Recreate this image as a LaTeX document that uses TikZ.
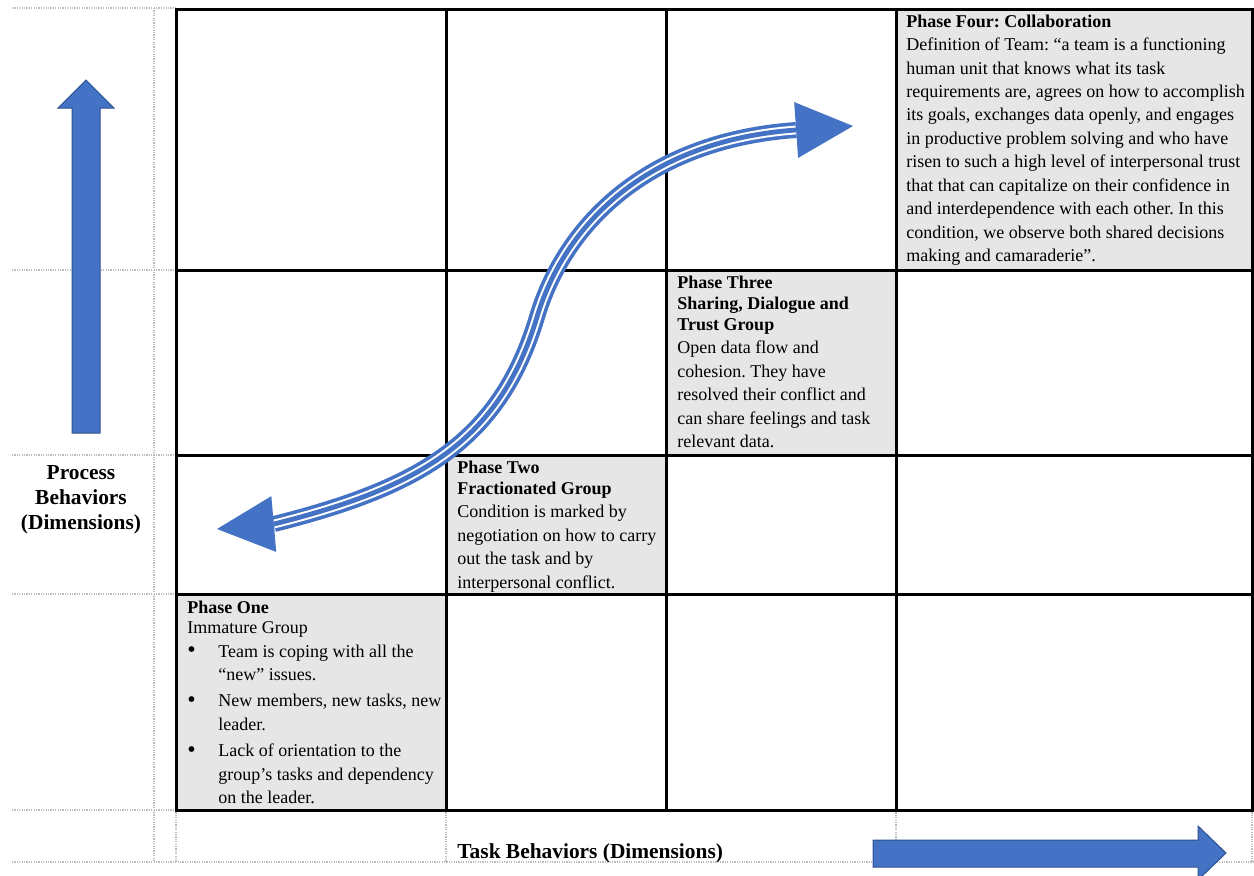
\documentclass[tikz,border=0pt]{standalone}
\usepackage{fontspec}
\setmainfont{Liberation Serif}
\usetikzlibrary{arrows.meta}
\definecolor{ArrowBlue}{HTML}{4472C4}
\definecolor{ArrowEdge}{HTML}{2F528F}
\definecolor{CellGray}{HTML}{E7E6E6}
\definecolor{GuideGray}{HTML}{BDBDBD}
\newcommand{\bul}{\makebox[15.5pt][l]{\raisebox{-0.3pt}{\fontsize{12}{0}\selectfont\textbullet}}}
\newcommand{\ind}{\hspace*{15.5pt}}
\frenchspacing

\begin{document}
\begin{tikzpicture}[x=0.5pt, y=-0.5pt]
	\tikzstyle{grid} = [line width=1.5pt]
	\tikzstyle{guide} = [GuideGray, line width=0.6pt, dash pattern=on 0.6pt off 0.6pt]
	\tikzstyle{phase} = [anchor=north west, align=left, inner sep=0pt, font=\fontsize{9}{11.7}\selectfont]
	\tikzstyle{axis} = [inner sep=0pt, align=center, font=\fontsize{10.7}{12.4}\selectfont\bfseries]
	\tikzstyle{fatarrow} = [fill=ArrowBlue, draw=ArrowEdge, line width=0.5pt]
	\tikzset{bigtip/.tip={Triangle[width=28pt, length=28.5pt, line width=0pt]}}
	
	\clip (0,0) rectangle (1254,875);
	
	% dotted guides of the page table
	\foreach \y in {8,270,455,594,810} \draw[guide] (12,\y) -- (176,\y);
	\draw[guide] (12,862) -- (1254,862);
	\draw[guide] (154,8) -- (154,862);
	\foreach \x in {176,446,896,1252} \draw[guide] (\x,810) -- (\x,862);
	
	\fill[CellGray] (176,594) rectangle (446,810);
	\fill[CellGray] (446,455) rectangle (666,594);
	\fill[CellGray] (666,270) rectangle (896,455);
	\fill[CellGray] (896,9) rectangle (1252,270);
	
	\draw[grid] (176,9) rectangle (1252,810);
	\foreach \x in {446,666,896} \draw[grid] (\x,9) -- (\x,810);
	\foreach \y in {270,455,594} \draw[grid] (176,\y) -- (1252,\y);
	
	\node[phase] (four) at (906,14.5) {\textbf{Phase Four: Collaboration}\\
		Definition of Team: “a team is a functioning\\
		human unit that knows what its task\\
		requirements are, agrees on how to accomplish\\
		its goals, exchanges data openly, and engages\\
		in productive problem solving and who have\\
		risen to such a high level of interpersonal trust\\
		that that can capitalize on their confidence in\\
		and interdependence with each other. In this\\
		condition, we observe both shared decisions\\
		making and camaraderie”.};
	\node[phase] (three) at (677,275.5) {\textbf{Phase Three}\\[-1.2pt]
		\textbf{Sharing, Dialogue and}\\[-1.2pt]
		\textbf{Trust Group}\\
		Open data flow and\\
		cohesion. They have\\
		resolved their conflict and\\
		can share feelings and task\\
		relevant data.};
	\node[phase] (two) at (457,460.5) {\textbf{Phase Two}\\[-1.2pt]
		\textbf{Fractionated Group}\\
		Condition is marked by\\
		negotiation on how to carry\\
		out the task and by\\
		interpersonal conflict.};
	\node[phase] (one) at (187,600.5) {\textbf{Phase One}\\[-1.6pt]
		Immature Group\\
		\bul Team is coping with all the\\
		\ind “new” issues.\\[1.5pt]
		\bul New members, new tasks, new\\
		\ind leader.\\[1.5pt]
		\bul Lack of orientation to the\\
		\ind group’s tasks and dependency\\
		\ind on the leader.};
	
	\node[axis, anchor=north] (process) at (81,465) {Process\\Behaviors\\(Dimensions)};
	\node[axis, anchor=base west] (task) at (457,858) {Task Behaviors (Dimensions)};
	
	\draw[fatarrow] (72,433) -- (72,108) -- (58,108) -- (86,80) -- (114,108) -- (100,108) -- (100,433) -- cycle;
	\draw[fatarrow] (873,840) -- (1198,840) -- (1198,826) -- (1226,853) -- (1198,880) -- (1198,867) -- (873,867) -- cycle;
	
	\coordinate (tipL) at (217,529);
	\coordinate (sL) at (274,524);
	\coordinate (turn) at (537,317);
	\coordinate (sR) at (796,130);
	\coordinate (tipR) at (853,126);
	\foreach \w/\c in {8pt/ArrowBlue, 4.4pt/white, 2.4pt/ArrowBlue}
		\draw[\c, line width=\w] (sL) .. controls (419.5,487.5) and (499.7,441.5) .. (turn) .. controls (564,226) and (646,140.5) .. (sR);
	\draw[ArrowBlue, line width=8pt, -{bigtip}] (sL) -- (tipL);
	\draw[ArrowBlue, line width=8pt, -{bigtip}] (sR) -- (tipR);
\end{tikzpicture}
\end{document}
